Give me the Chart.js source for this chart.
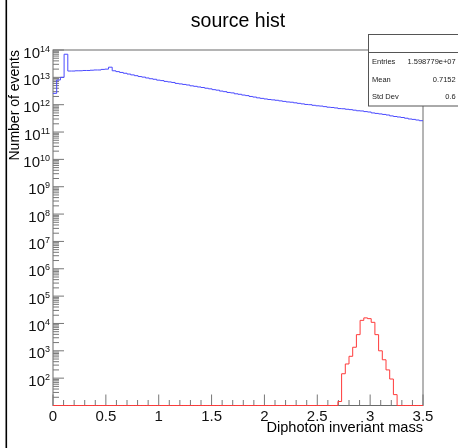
<!DOCTYPE html>
<html>
<head>
<meta charset="utf-8">
<title>source hist</title>
<script src="https://cdn.jsdelivr.net/npm/chart.js@4.4.1/dist/chart.umd.min.js"></script>
<style>
  html, body { margin: 0; padding: 0; background: #fff; }
  canvas { display: block; }
</style>
</head>
<body>
<canvas id="histCanvas" width="458" height="448"></canvas>
<script>
// Binning: 100 bins on [0, 3.5]
const xMin = 0;
const xMax = 3.5;
const nBins = 100;

// Source spectrum, events per bin
const sourceCounts = [
  2.6e12, 8.0e12, 1.0e13, 7.0e13, 1.70e13, 1.70e13, 1.74e13, 1.74e13, 1.78e13, 1.78e13,
  1.82e13, 1.86e13, 1.86e13, 1.95e13, 2.0e13, 2.35e13, 1.74e13, 1.62e13, 1.51e13, 1.41e13,
  1.32e13, 1.23e13, 1.15e13, 1.07e13, 1.02e13, 9.5e12, 8.9e12, 8.5e12, 7.9e12, 7.6e12,
  7.1e12, 6.8e12, 6.5e12, 6.0e12, 5.75e12, 5.5e12, 5.25e12, 4.9e12, 4.7e12, 4.45e12,
  4.25e12, 4.0e12, 3.8e12, 3.55e12, 3.4e12, 3.15e12, 3.0e12, 2.8e12, 2.7e12, 2.5e12,
  2.4e12, 2.25e12, 2.15e12, 2.0e12, 1.9e12, 1.78e12, 1.7e12, 1.62e12, 1.55e12, 1.5e12,
  1.45e12, 1.38e12, 1.32e12, 1.26e12, 1.23e12, 1.17e12, 1.12e12, 1.07e12, 1.02e12, 1.0e12,
  9.5e11, 9.1e11, 8.9e11, 8.5e11, 8.1e11, 7.9e11, 7.6e11, 7.2e11, 7.1e11, 6.8e11,
  6.6e11, 6.3e11, 6.0e11, 5.9e11, 5.6e11, 5.4e11, 5.0e11, 4.8e11, 4.6e11, 4.4e11,
  4.2e11, 3.9e11, 3.7e11, 3.55e11, 3.4e11, 3.2e11, 3.0e11, 2.9e11, 2.75e11, 2.6e11
];

// Signal peak: filled bins start at bin 77, all other bins are empty
const peakFirstBin = 77;
const peakCounts = [14, 145, 330, 630, 1350, 3900, 13000, 16000, 15000, 11000, 3900, 1000, 470, 200, 93, 25];

// Axes
const yMin = 10;
const yMax = 1e14;
const yLabelExps = [2, 3, 4, 5, 6, 7, 8, 9, 10, 11, 12, 13, 14];
const xTickLabels = ["0", "0.5", "1", "1.5", "2", "2.5", "3", "3.5"];
const xMajorStep = 0.5;
const xMinorStep = 0.1;

const titleText = "source hist";
const xTitle = "Diphoton inveriant mass";
const yTitle = "Number of events";

// Stats box
const statNames = ["Entries", "Mean", "Std Dev"];
const statValues = ["1.598779e+07", "0.7152", "0.6"];

const FONT = '"Liberation Sans", Arial, sans-serif';
const binWidth = (xMax - xMin) / nBins;

// step outline: one point per bin low edge, plus closing point at xMax
function histPoints(counts) {
  const pts = counts.map((v, i) => ({ x: xMin + i * binWidth, y: v > 0 ? v : yMin }));
  pts.push({ x: xMax, y: pts[pts.length - 1].y });
  return pts;
}

const peakFull = [];
for (let i = 0; i < nBins; i++) {
  const k = i - peakFirstBin;
  peakFull.push(k >= 0 && k < peakCounts.length ? peakCounts[k] : 0);
}

function line(ctx, x1, y1, x2, y2) {
  ctx.beginPath();
  ctx.moveTo(x1, y1);
  ctx.lineTo(x2, y2);
  ctx.stroke();
}

// frame, ticks, labels and titles in ROOT style
const rootFrame = {
  id: "rootFrame",
  beforeDatasetsDraw(chart) {
    const { ctx, chartArea: a } = chart;
    const xs = chart.scales.x;
    const ys = chart.scales.y;
    ctx.save();

    // canvas edge
    ctx.fillStyle = "#000";
    ctx.fillRect(5.5, 0, 1.6, chart.height);

    ctx.strokeStyle = "#6a6a6a";
    ctx.lineWidth = 1;
    ctx.strokeRect(a.left, a.top, a.right - a.left, a.bottom - a.top);

    // y ticks: decades and 2..9 subdivisions
    ctx.strokeStyle = "#777";
    for (let e = 1; e <= 14; e++) {
      for (let m = 1; m <= 9; m++) {
        const v = m * Math.pow(10, e);
        if (v < yMin || v > yMax) continue;
        const py = ys.getPixelForValue(v);
        line(ctx, a.left, py, a.left + (m === 1 ? 11 : 6), py);
      }
    }

    // x ticks
    const nMinor = Math.round((xMax - xMin) / xMinorStep);
    const perMajor = Math.round(xMajorStep / xMinorStep);
    for (let k = 0; k <= nMinor; k++) {
      const px = xs.getPixelForValue(xMin + k * xMinorStep);
      line(ctx, px, a.bottom, px, a.bottom - (k % perMajor === 0 ? 11 : 5.5));
    }

    // x labels
    ctx.fillStyle = "#111";
    ctx.font = "15px " + FONT;
    ctx.textAlign = "center";
    ctx.textBaseline = "alphabetic";
    xTickLabels.forEach((lab, i) => {
      ctx.fillText(lab, xs.getPixelForValue(xMin + i * xMajorStep), a.bottom + 15);
    });

    // y labels as 10^n
    yLabelExps.forEach(e => {
      const py = ys.getPixelForValue(Math.pow(10, e));
      ctx.font = "9px " + FONT;
      const supW = ctx.measureText(String(e)).width;
      const right = a.left - 3;
      ctx.textAlign = "left";
      ctx.fillText(String(e), right - supW, py + 1.5);
      ctx.font = "15px " + FONT;
      ctx.textAlign = "right";
      ctx.fillText("10", right - supW, py + 7.5);
    });

    // title
    ctx.font = "19.5px " + FONT;
    ctx.textAlign = "center";
    ctx.fillStyle = "#000";
    ctx.fillText(titleText, 238, 26.5);

    // axis titles
    ctx.font = "14.6px " + FONT;
    ctx.textAlign = "right";
    ctx.fillText(xTitle, a.right, 432);

    ctx.save();
    ctx.translate(19, a.top);
    ctx.rotate(-Math.PI / 2);
    ctx.font = "14px " + FONT;
    ctx.textAlign = "right";
    ctx.fillText(yTitle, 0, 0);
    ctx.restore();

    ctx.restore();
  },
  afterDraw(chart) {
    const ctx = chart.ctx;
    ctx.save();
    // stats box, running off the right edge
    const bx = 368.5, by = 34.5, bw = 110, bh = 71.5;
    ctx.fillStyle = "#fff";
    ctx.fillRect(bx, by, bw, bh);
    ctx.strokeStyle = "#555";
    ctx.lineWidth = 1;
    ctx.strokeRect(bx, by, bw, bh);
    line(ctx, bx, 52.5, bx + bw, 52.5);

    ctx.fillStyle = "#222";
    ctx.font = "7.5px " + FONT;
    ctx.textBaseline = "middle";
    const rows = [62.3, 80, 97.3];
    statNames.forEach((name, i) => {
      ctx.textAlign = "left";
      ctx.fillText(name, 372, rows[i]);
      ctx.textAlign = "right";
      ctx.fillText(statValues[i], 455.7, rows[i]);
    });
    ctx.restore();
  }
};

new Chart(document.getElementById("histCanvas"), {
  type: "line",
  data: {
    datasets: [
      {
        label: "source",
        data: histPoints(sourceCounts),
        borderColor: "#4a4aff",
        borderWidth: 1,
        stepped: "before",
        pointRadius: 0,
        fill: false
      },
      {
        label: "peak",
        data: histPoints(peakFull),
        borderColor: "#ff3a3a",
        borderWidth: 1,
        stepped: "before",
        pointRadius: 0,
        fill: false,
        clip: 2
      }
    ]
  },
  options: {
    responsive: false,
    animation: false,
    devicePixelRatio: 1,
    layout: { padding: { left: 53, top: 50, right: 35, bottom: 42.5 } },
    plugins: {
      legend: { display: false },
      title: { display: false },
      tooltip: { enabled: false }
    },
    scales: {
      x: { type: "linear", min: xMin, max: xMax, display: false },
      y: { type: "logarithmic", min: yMin, max: yMax, display: false }
    }
  },
  plugins: [rootFrame]
});
</script>
</body>
</html>
